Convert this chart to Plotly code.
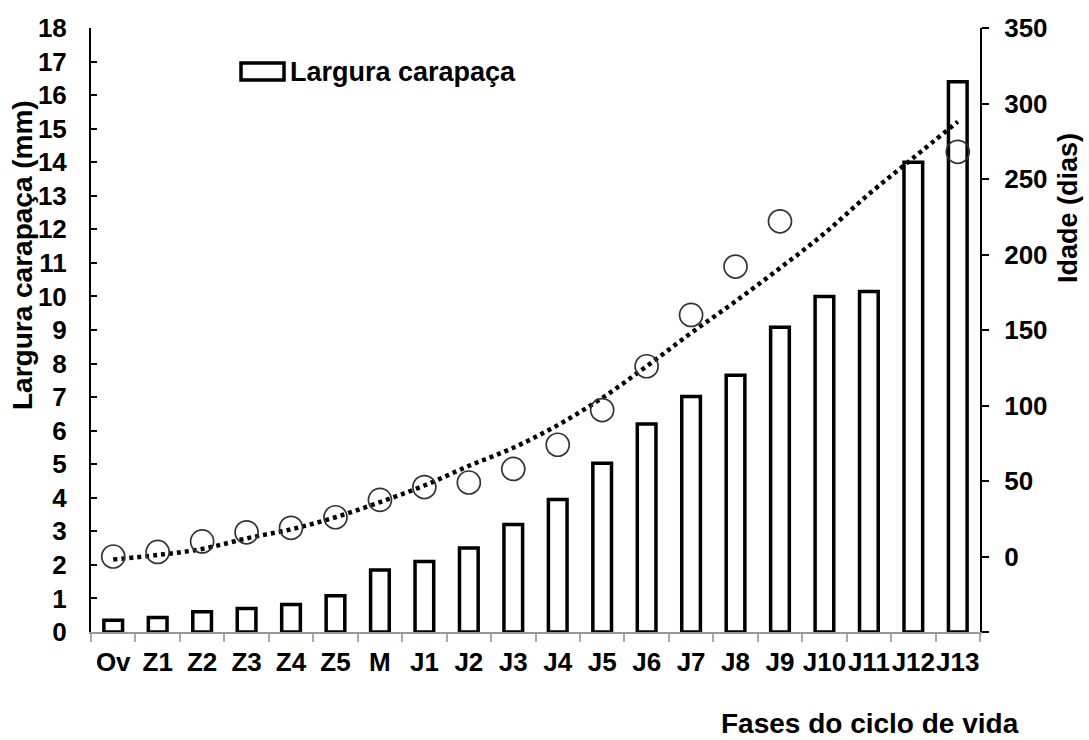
import plotly.graph_objects as go

# ---- data ----
fases = ["Ov", "Z1", "Z2", "Z3", "Z4", "Z5", "M", "J1", "J2", "J3", "J4",
         "J5", "J6", "J7", "J8", "J9", "J10", "J11", "J12", "J13"]
largura_mm = [0.35, 0.43, 0.6, 0.7, 0.82, 1.08, 1.85, 2.1, 2.5, 3.2, 3.95,
              5.03, 6.2, 7.02, 7.65, 9.08, 10.0, 10.15, 14.0, 16.4]
idade_dias = [0, 3, 10, 16, 19, 26, 37.5, 46, 49, 58, 74,
              97, 126, 160, 192, 222, None, None, None, 268]
tendencia = [-2, 1, 5, 12, 18, 26, 36, 47, 60, 72, 87,
             105, 126, 148, 169, 191, 214, 240, 264, 288]

left_ticks = list(range(0, 19))
right_ticks = [-50, 0, 50, 100, 150, 200, 250, 300, 350]
right_text = ["", "0", "50", "100", "150", "200", "250", "300", "350"]

FONT = "Liberation Sans, Arial, sans-serif"

fig = go.Figure()
fig.add_trace(go.Bar(
    x=fases, y=largura_mm, width=0.42,
    marker=dict(color="white", line=dict(color="black", width=3.5)),
    showlegend=False, yaxis="y"))
fig.add_trace(go.Scatter(
    x=fases, y=tendencia, mode="lines", yaxis="y2",
    line=dict(color="black", width=4.5, dash="4px,4px", shape="spline", smoothing=1.0),
    showlegend=False))
fig.add_trace(go.Scatter(
    x=fases, y=idade_dias, mode="markers", yaxis="y2",
    marker=dict(symbol="circle-open", size=23, color="#333", line=dict(width=1.7)),
    showlegend=False))

W0, W1, H0, H1 = 91, 980, 28, 632
def px(x):
    return (x - W0) / (W1 - W0)
def py(y):
    return (H1 - y) / (H1 - H0)

fig.update_layout(
    width=1089, height=740,
    margin=dict(l=W0, r=1089 - W1, t=H0, b=740 - H1),
    paper_bgcolor="white", plot_bgcolor="white",
    font=dict(family=FONT, color="black"),
    xaxis=dict(
        type="category", range=[-0.5, 19.5],
        showline=True, linecolor="#999", linewidth=1.5,
        ticks="outside", tickson="boundaries", ticklen=8, tickcolor="#aaa", tickwidth=1.5,
        tickangle=0,
        tickfont=dict(family=FONT, size=26, weight="bold", color="black"),
        ticklabelstandoff=6, showgrid=False, zeroline=False),
    yaxis=dict(
        range=[0, 18], tickvals=left_ticks,
        showline=True, linecolor="black", linewidth=2,
        ticks="inside", ticklen=6, tickcolor="black", tickwidth=2,
        tickfont=dict(family=FONT, size=26, weight="bold", color="black"),
        ticklabelstandoff=17, showgrid=False, zeroline=False),
    yaxis2=dict(
        range=[-50, 350], tickvals=right_ticks, ticktext=right_text,
        overlaying="y", side="right",
        showline=True, linecolor="black", linewidth=2,
        ticks="outside", ticklen=7, tickcolor="black", tickwidth=2,
        tickfont=dict(family=FONT, size=26, weight="bold", color="black"),
        ticklabelstandoff=10, showgrid=False, zeroline=False),
)

# axis titles
fig.add_annotation(text="Largura carapaça (mm)", xref="paper", yref="paper",
                   x=px(22), y=py(255), textangle=-90, showarrow=False,
                   xanchor="center", yanchor="middle",
                   font=dict(family=FONT, size=28, weight="bold"))
fig.add_annotation(text="Idade (dias)", xref="paper", yref="paper",
                   x=px(1068), y=py(208), textangle=-90, showarrow=False,
                   xanchor="center", yanchor="middle",
                   font=dict(family=FONT, size=27, weight="bold"))
fig.add_annotation(text="Fases do ciclo de vida", xref="paper", yref="paper",
                   x=px(870), y=py(723), showarrow=False,
                   xanchor="center", yanchor="middle",
                   font=dict(family=FONT, size=28, weight="bold"))

# legend (custom swatch + label)
fig.add_shape(type="rect", xref="paper", yref="paper",
              x0=px(241), x1=px(284), y0=py(80), y1=py(63),
              line=dict(color="black", width=3.5), fillcolor="white")
fig.add_annotation(text="Largura carapaça", xref="paper", yref="paper",
                   x=px(288), y=py(72), showarrow=False,
                   xanchor="left", yanchor="middle",
                   font=dict(family=FONT, size=27, weight="bold"))

fig.write_html("out.html")
